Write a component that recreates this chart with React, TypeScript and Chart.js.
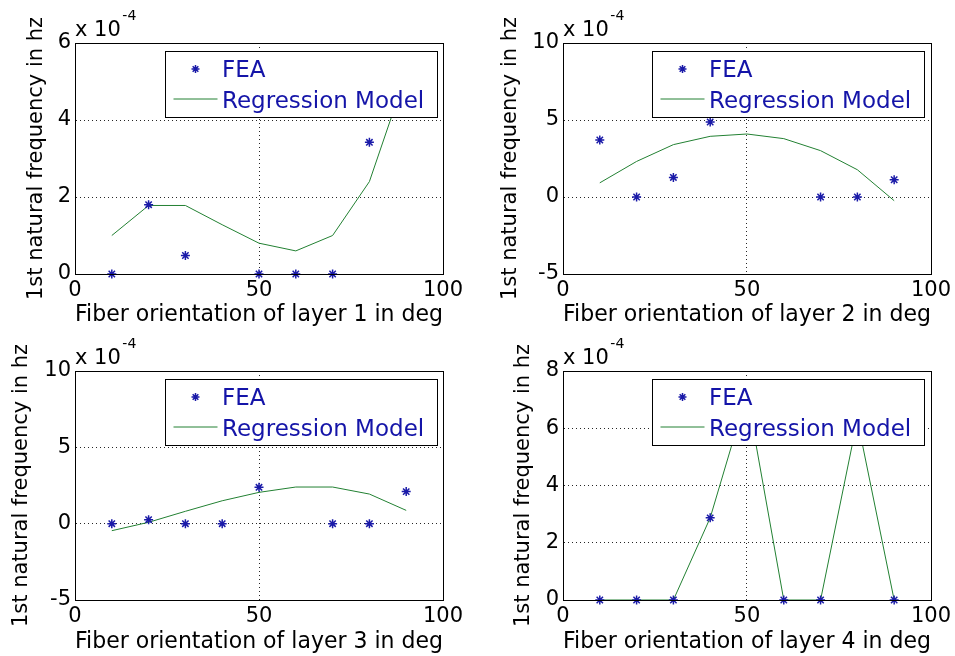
import React, { useEffect, useRef } from 'react';
import { Chart, registerables } from 'chart.js';

Chart.register(...registerables);

const FONT = "'DejaVu Sans', 'Liberation Sans', sans-serif";
const STAR_COLOR = '#1a1aa8';
const LINE_COLOR = 'rgb(34,128,50)';
const LEGEND_TEXT = '#1414a8';

// ---- data (x 10^-4 Hz) ----
const xTickValues = [0, 50, 100];
const seriesLabels = ['FEA', 'Regression Model'];
const exponentBase = 'x 10';
const exponentPower = '-4';

const fea1X = [10, 20, 30, 50, 60, 70, 80];
const fea1Y = [0, 1.8, 0.48, 0, 0, 0, 3.42];
const reg1X = [10, 20, 30, 40, 50, 60, 70, 80, 90];
const reg1Y = [1.0, 1.78, 1.78, 1.28, 0.8, 0.6, 1.0, 2.4, 5.2];

const fea2X = [10, 20, 30, 40, 70, 80, 90];
const fea2Y = [3.7, 0, 1.27, 4.87, 0, 0, 1.12];
const reg2X = [10, 20, 30, 40, 50, 60, 70, 80, 90];
const reg2Y = [0.92, 2.31, 3.4, 3.94, 4.09, 3.79, 3.01, 1.77, -0.24];

const fea3X = [10, 20, 30, 40, 50, 70, 80, 90];
const fea3Y = [0, 0.26, 0, 0, 2.38, 0, 0, 2.1];
const reg3X = [10, 20, 30, 40, 50, 60, 70, 80, 90];
const reg3Y = [-0.46, 0.09, 0.81, 1.5, 2.05, 2.4, 2.4, 1.94, 0.87];

const fea4X = [10, 20, 30, 40, 60, 70, 90];
const fea4Y = [0, 0, 0, 2.87, 0, 0, 0];
const reg4X = [10, 20, 30, 40, 50, 60, 70, 80, 90];
const reg4Y = [0, 0, 0, 2.87, 7.2, 0, 0, 6.3, 0];

const xTitles = [
  'Fiber orientation of layer 1 in deg',
  'Fiber orientation of layer 2 in deg',
  'Fiber orientation of layer 3 in deg',
  'Fiber orientation of layer 4 in deg',
];
const yTitle = '1st natural frequency in hz';

const yRanges = [
  [0, 6, 2],
  [-5, 10, 5],
  [-5, 10, 5],
  [0, 8, 2],
];

const pts = (xs: number[], ys: number[]) => xs.map((x, i) => ({ x, y: ys[i] }));

type PanelSpec = {
  left: number; top: number; width: number; height: number;
  yw: number; padTop: number; padRight: number; xh: number;
  yTitlePad: number; xTitlePad: number;
  feaX: number[]; feaY: number[]; regX: number[]; regY: number[];
  idx: number;
};

const panels: PanelSpec[] = [
  { left: 0, top: 0, width: 478, height: 328, yw: 75, padTop: 43, padRight: 35, xh: 54, yTitlePad: 26.4, xTitlePad: 1.0, feaX: fea1X, feaY: fea1Y, regX: reg1X, regY: reg1Y, idx: 0 },
  { left: 478, top: 0, width: 477, height: 328, yw: 85, padTop: 43, padRight: 24, xh: 54, yTitlePad: 21.8, xTitlePad: 1.0, feaX: fea2X, feaY: fea2Y, regX: reg2X, regY: reg2Y, idx: 1 },
  { left: 0, top: 328, width: 478, height: 328, yw: 75, padTop: 43, padRight: 35, xh: 56, yTitlePad: 11.4, xTitlePad: 2.0, feaX: fea3X, feaY: fea3Y, regX: reg3X, regY: reg3Y, idx: 2 },
  { left: 478, top: 328, width: 477, height: 328, yw: 85, padTop: 43, padRight: 24, xh: 56, yTitlePad: 35.1, xTitlePad: 2.0, feaX: fea4X, feaY: fea4Y, regX: reg4X, regY: reg4Y, idx: 3 },
];

function drawStar(ctx: CanvasRenderingContext2D, x: number, y: number, r: number) {
  const d = r * Math.SQRT1_2;
  ctx.beginPath();
  ctx.moveTo(x - r, y); ctx.lineTo(x + r, y);
  ctx.moveTo(x, y - r); ctx.lineTo(x, y + r);
  ctx.moveTo(x - d, y - d); ctx.lineTo(x + d, y + d);
  ctx.moveTo(x - d, y + d); ctx.lineTo(x + d, y - d);
  ctx.stroke();
}

const decorPlugin = {
  id: 'decor',
  afterDatasetsDraw(chart: any) {
    const { ctx, chartArea: a } = chart;
    const bw = 272, bh = 66;
    const bl = Math.round(a.right - 6.5 - bw) + 0.5;
    const bt = Math.round(a.top + 8) + 0.5;
    ctx.save();
    ctx.fillStyle = '#fff';
    ctx.fillRect(bl, bt, bw, bh);
    ctx.strokeStyle = '#000';
    ctx.lineWidth = 1;
    ctx.strokeRect(bl, bt, bw, bh);
    // FEA marker
    ctx.strokeStyle = STAR_COLOR;
    ctx.lineWidth = 1.5;
    drawStar(ctx, bl + 30, bt + 17.5, 4);
    // regression line sample
    ctx.strokeStyle = LINE_COLOR;
    ctx.lineWidth = 1;
    ctx.beginPath();
    ctx.moveTo(bl + 8, bt + 47.5);
    ctx.lineTo(bl + 52, bt + 47.5);
    ctx.stroke();
    ctx.fillStyle = LEGEND_TEXT;
    ctx.font = `23px ${FONT}`;
    ctx.textBaseline = 'alphabetic';
    ctx.textAlign = 'left';
    ctx.fillText(chart.data.datasets[0].label, bl + 56.5, bt + 25);
    ctx.fillText(chart.data.datasets[1].label, bl + 56.5, bt + 56.5);
    ctx.restore();
  },
  afterDraw(chart: any) {
    const { ctx, chartArea: a } = chart;
    ctx.save();
    ctx.strokeStyle = '#000';
    ctx.lineWidth = 1;
    const l = Math.round(a.left) + 0.5, t = Math.round(a.top) + 0.5;
    const r = Math.round(a.right) + 0.5, b = Math.round(a.bottom) + 0.5;
    ctx.strokeRect(l, t, r - l, b - t);
    ctx.fillStyle = '#000';
    ctx.textBaseline = 'alphabetic';
    ctx.textAlign = 'left';
    ctx.font = `21px ${FONT}`;
    ctx.fillText(exponentBase, a.left, a.top - 7.5);
    const w = ctx.measureText(exponentBase).width;
    ctx.font = `14px ${FONT}`;
    ctx.fillText(exponentPower, a.left + w + 1.5, a.top - 23);
    ctx.restore();
  },
};

function buildConfig(p: PanelSpec): any {
  const [ymin, ymax, ystep] = yRanges[p.idx];
  const gridColor = (lo: number, hi: number) => (c: any) =>
    c.tick && (c.tick.value === lo || c.tick.value === hi) ? 'rgba(0,0,0,0)' : 'rgba(0,0,0,0.85)';
  return {
    type: 'scatter',
    data: {
      datasets: [
        {
          label: seriesLabels[0],
          data: pts(p.feaX, p.feaY),
          showLine: false,
          pointStyle: 'star',
          pointRadius: 4.5,
          pointHoverRadius: 4.5,
          pointBorderWidth: 1.5,
          borderColor: STAR_COLOR,
          backgroundColor: STAR_COLOR,
          clip: false,
          order: 1,
        },
        {
          label: seriesLabels[1],
          data: pts(p.regX, p.regY),
          showLine: true,
          borderColor: LINE_COLOR,
          backgroundColor: LINE_COLOR,
          borderWidth: 1,
          pointRadius: 0,
          pointHoverRadius: 0,
          tension: 0,
          order: 2,
        },
      ],
    },
    options: {
      animation: false,
      responsive: false,
      devicePixelRatio: 1,
      events: [],
      layout: { padding: { left: 0, top: p.padTop, right: p.padRight, bottom: 0 } },
      plugins: { legend: { display: false }, tooltip: { enabled: false } },
      scales: {
        x: {
          type: 'linear',
          min: 0,
          max: 100,
          afterFit: (s: any) => { s.height = p.xh; },
          afterBuildTicks: (s: any) => { s.ticks = xTickValues.map((v) => ({ value: v })); },
          ticks: {
            color: '#000',
            font: { family: FONT, size: 21 },
            padding: 4,
            maxRotation: 0,
            autoSkip: false,
          },
          grid: { drawTicks: false, color: gridColor(0, 100), lineWidth: 1 },
          border: { display: true, color: '#000', width: 1, dash: [1, 3] },
          title: {
            display: true,
            text: xTitles[p.idx],
            color: '#000',
            font: { family: FONT, size: 23, lineHeight: 1 },
            padding: { top: 0, bottom: p.xTitlePad },
          },
        },
        y: {
          type: 'linear',
          min: ymin,
          max: ymax,
          afterFit: (s: any) => { s.width = p.yw; },
          ticks: {
            stepSize: ystep,
            color: '#000',
            font: { family: FONT, size: 21 },
            padding: 4,
          },
          grid: { drawTicks: false, color: gridColor(ymin, ymax), lineWidth: 1 },
          border: { display: true, color: '#000', width: 1, dash: [1, 3] },
          title: {
            display: true,
            text: yTitle,
            color: '#000',
            font: { family: FONT, size: 21, lineHeight: 1 },
            padding: { top: p.yTitlePad, bottom: 0 },
          },
        },
      },
    },
    plugins: [decorPlugin],
  };
}

function Panel({ spec }: { spec: PanelSpec }) {
  const ref = useRef<HTMLCanvasElement | null>(null);
  useEffect(() => {
    if (!ref.current) return;
    const chart = new Chart(ref.current, buildConfig(spec));
    return () => chart.destroy();
  }, [spec]);
  return (
    <canvas
      ref={ref}
      width={spec.width}
      height={spec.height}
      style={{ position: 'absolute', left: spec.left, top: spec.top, width: spec.width, height: spec.height }}
    />
  );
}

export default function App() {
  return (
    <div style={{ position: 'fixed', left: 0, top: 0, width: 955, height: 656, background: '#fff', overflow: 'hidden' }}>
      {panels.map((s) => (
        <Panel key={s.idx} spec={s} />
      ))}
    </div>
  );
}
